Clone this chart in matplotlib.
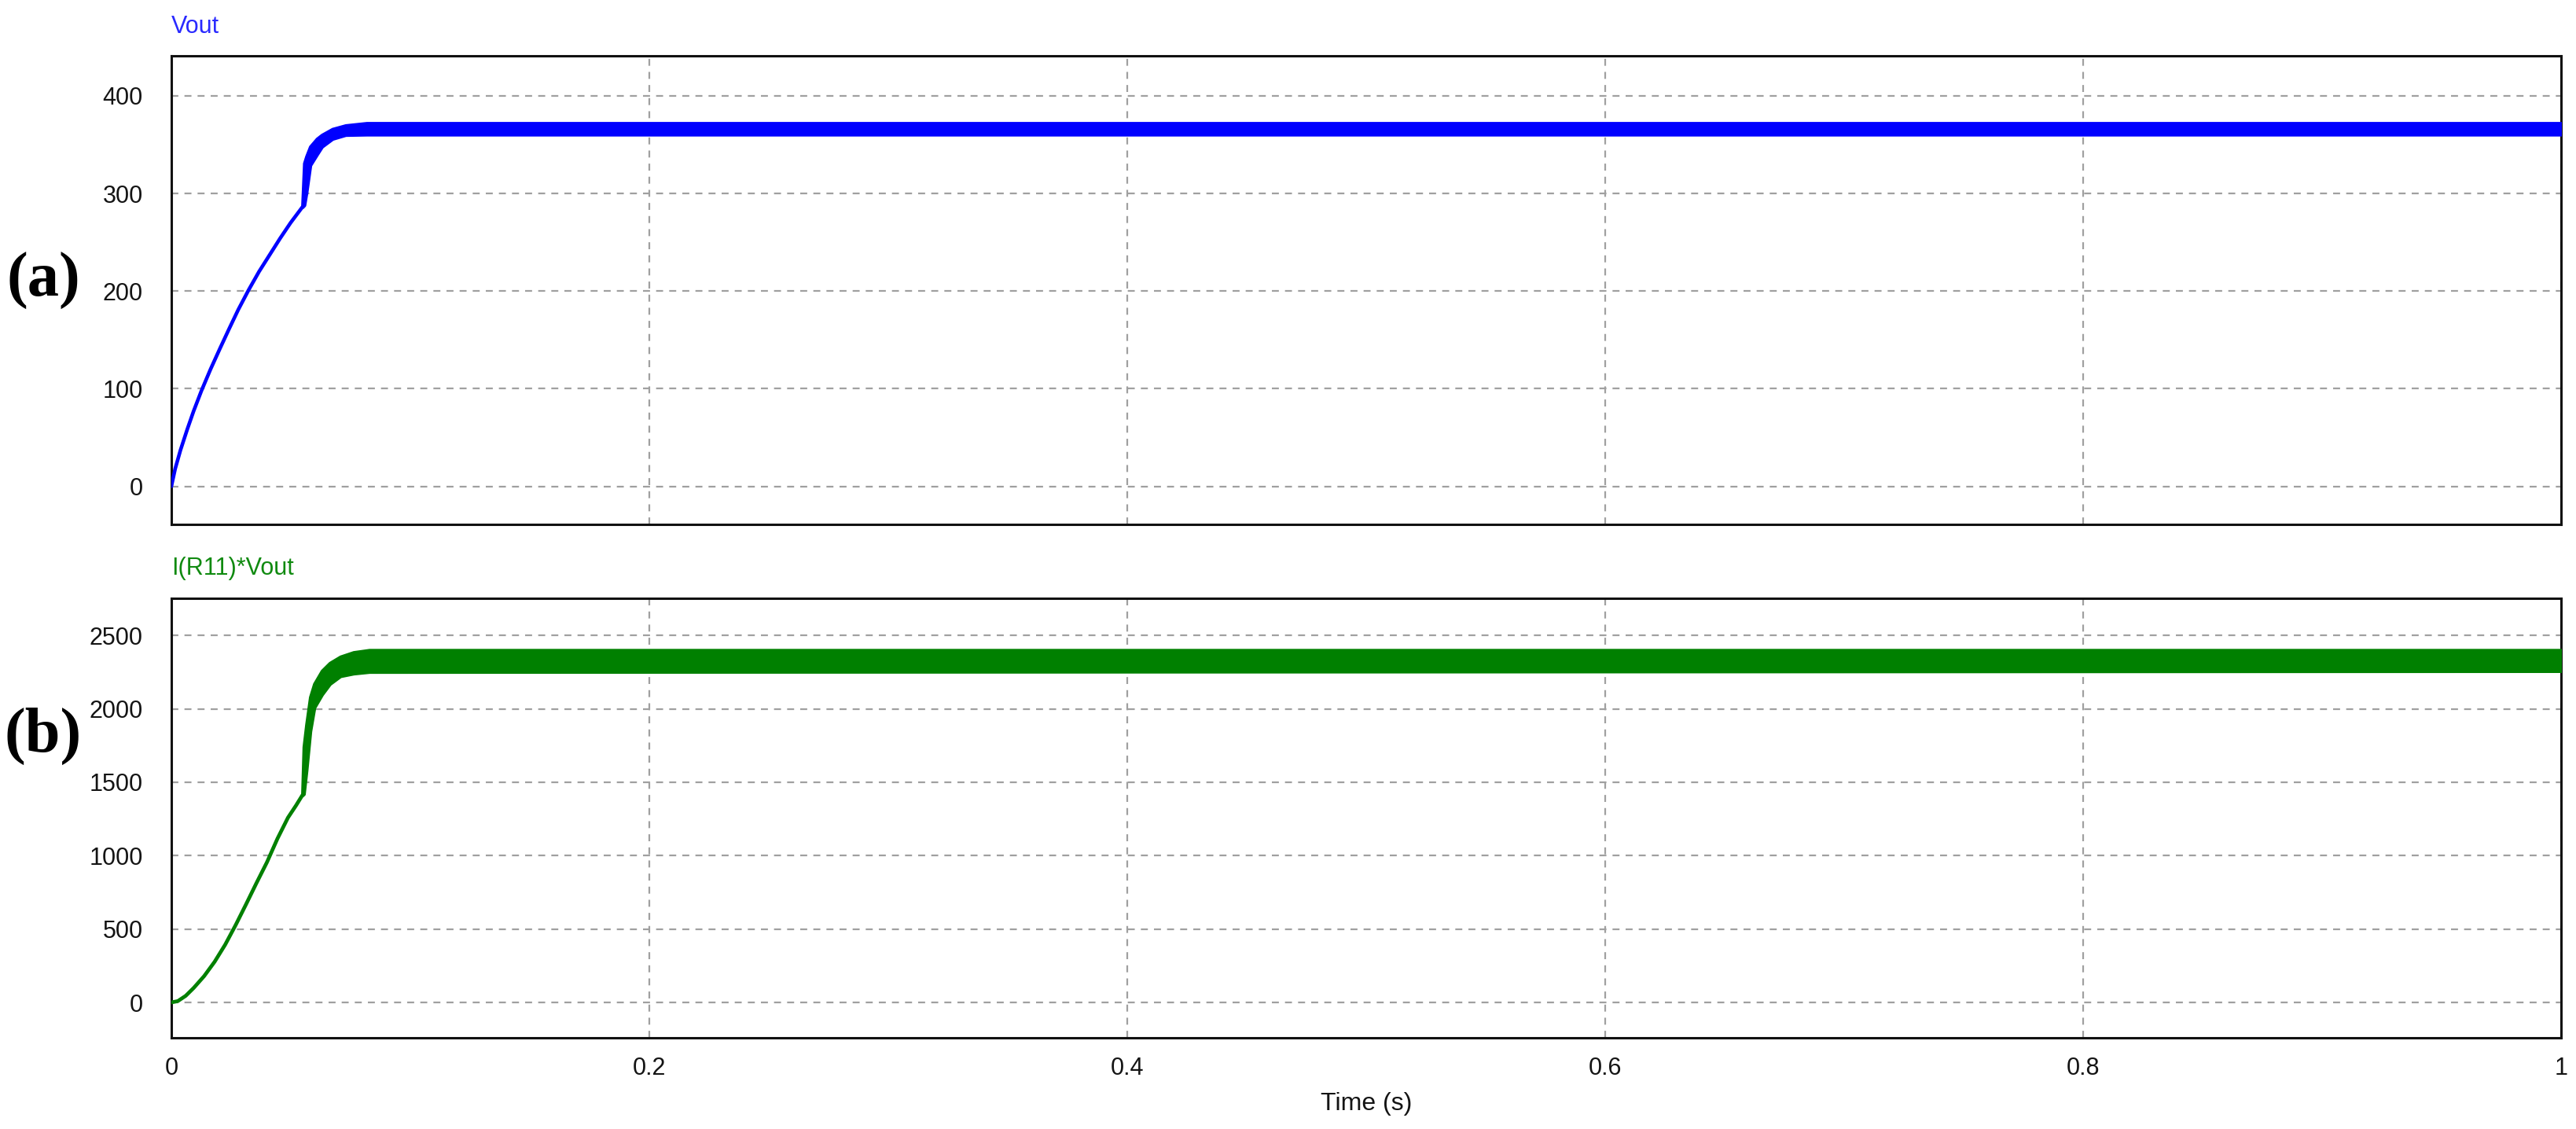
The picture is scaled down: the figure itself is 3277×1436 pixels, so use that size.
import matplotlib.pyplot as plt
import numpy as np

# ---- data ----
# (a) Vout start-up: single trace up to the step
t_vrise = [0.0, 0.0016, 0.0038, 0.0066, 0.0093, 0.0126, 0.0164, 0.0203, 0.0241,
           0.0280, 0.0323, 0.0367, 0.0411, 0.0455, 0.0499, 0.0548]
v_rise = [0, 18, 37, 58, 77, 98, 120, 141, 161, 181, 201, 220, 237, 254, 270, 286]
# after the step the switching ripple shows as a band (lower / upper envelope)
t_vband = [0.0548, 0.0556, 0.0565, 0.0581, 0.0609, 0.0630, 0.0674, 0.0729, 0.0817, 1.0]
v_lo = [286, 288, 301, 329, 340, 348, 356, 360, 360.4, 360.4]
v_hi = [286, 331, 338, 348, 356, 360, 366, 369.7, 372, 372]

# (b) I(R11)*Vout
t_prise = [0.0, 0.0027, 0.0060, 0.0093, 0.0137, 0.0181, 0.0225, 0.0269, 0.0313,
           0.0356, 0.0400, 0.0444, 0.0488, 0.0521, 0.0548]
p_rise = [0, 9, 45, 98, 179, 277, 393, 527, 670, 813, 955, 1116, 1259, 1340, 1411]
t_pband = [0.0548, 0.0554, 0.0565, 0.0581, 0.0598, 0.0630, 0.0663, 0.0707, 0.0762, 0.0828, 1.0]
p_lo = [1411, 1420, 1580, 1848, 2009, 2098, 2170, 2223, 2241, 2252, 2258]
p_hi = [1411, 1741, 1893, 2080, 2170, 2259, 2312, 2355, 2385, 2400, 2400]

x_ticks = [0, 0.2, 0.4, 0.6, 0.8, 1]
x_ticklabels = ['0', '0.2', '0.4', '0.6', '0.8', '1']
v_ticks = [0, 100, 200, 300, 400]
p_ticks = [0, 500, 1000, 1500, 2000, 2500]

W, H = 3277, 1436
fig = plt.figure(figsize=(W / 100, H / 100), dpi=100)
plt.rcParams['font.family'] = ['Liberation Sans', 'DejaVu Sans']

def px_axes(left, top, right, bottom):
    return fig.add_axes([left / W, 1 - bottom / H, (right - left) / W, (bottom - top) / H])

ax1 = px_axes(218, 71, 3258, 667)
ax2 = px_axes(218, 761, 3258, 1320)

def style(ax, yticks, ylim):
    ax.set_xlim(0, 1)
    ax.set_ylim(*ylim)
    ax.set_xticks(x_ticks)
    ax.set_xticklabels(x_ticklabels)
    ax.set_yticks(yticks)
    ax.set_axisbelow(True)
    ax.grid(True, color='#a0a0a0', linestyle=(0, (4, 3.5)), linewidth=1.6)
    ax.tick_params(length=0, labelsize=22, colors='#141414')
    ax.tick_params(axis='y', pad=26)
    ax.tick_params(axis='x', pad=17)
    for s in ax.spines.values():
        s.set_linewidth(2.2)
        s.set_color('#111111')

style(ax1, v_ticks, (-39, 441))
style(ax2, p_ticks, (-241, 2753))
ax1.tick_params(labelbottom=False)

blue = '#0000ff'
green = '#008000'

ax1.plot(t_vrise, v_rise, color=blue, lw=3.3, solid_capstyle='round', zorder=3)
ax1.fill_between(t_vband, v_lo, v_hi, color=blue, edgecolor=blue, lw=3.0, zorder=3)

ax2.plot(t_prise, p_rise, color=green, lw=3.4, solid_capstyle='round', zorder=3)
ax2.fill_between(t_pband, p_lo, p_hi, color=green, edgecolor=green, lw=3.0, zorder=3)

ax2.set_xlabel('Time (s)', fontsize=23, labelpad=11, color='#141414')

fig.text(218 / W, 1 - 34 / H, 'Vout', color='#2a2aff', fontsize=22, va='center', ha='left')
fig.text(218 / W, 1 - 723 / H, 'I(R11)*Vout', color='#108a10', fontsize=22, va='center', ha='left')

fig.text(55 / W, 1 - 357 / H, '(a)', fontsize=58, fontweight='bold',
         family=['Liberation Serif', 'DejaVu Serif'], ha='center', va='center')
fig.text(55 / W, 1 - 936 / H, '(b)', fontsize=58, fontweight='bold',
         family=['Liberation Serif', 'DejaVu Serif'], ha='center', va='center')

fig.savefig('out.png', dpi=100)
